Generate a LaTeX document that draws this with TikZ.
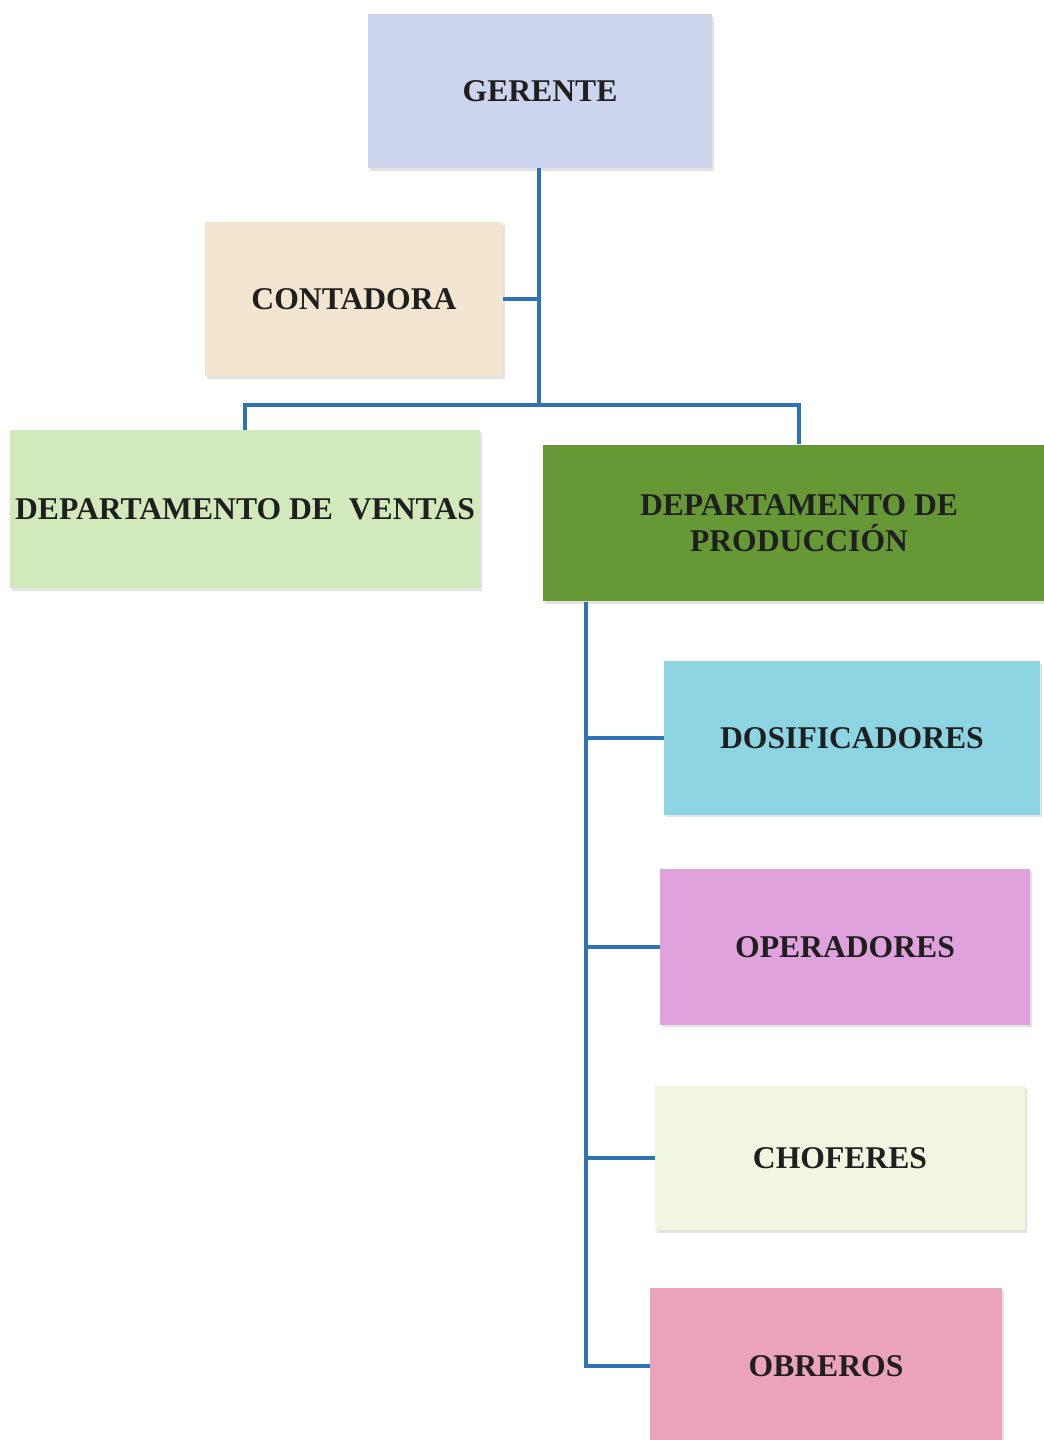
\documentclass[tikz,border=0pt]{standalone}
\usepackage{tikz}
\usepackage{xcolor}
\usepackage{fontspec}
\setmainfont{Liberation Serif}
\usetikzlibrary{shadows}
\definecolor{linea}{HTML}{2E74B5}
\definecolor{cger}{HTML}{CDD5EE}
\definecolor{ccon}{HTML}{F3E6D0}
\definecolor{cven}{HTML}{D2EABB}
\definecolor{cpro}{HTML}{679836}
\definecolor{cdos}{HTML}{8ED5E3}
\definecolor{cope}{HTML}{E0A2DC}
\definecolor{ccho}{HTML}{F1F6E0}
\definecolor{cobr}{HTML}{EBA2BB}
\tikzstyle{box}=[rectangle, align=center, text=black!88, inner sep=2pt,
  font=\bfseries\fontsize{22.5}{22.5}\selectfont,
  drop shadow={shadow xshift=1.5pt, shadow yshift=-2pt, fill=black!22}]
\tikzstyle{conn}=[line width=3.1pt, linea]

\begin{document}
\begin{tikzpicture}[x=0.025cm, y=-0.025cm]
      \useasboundingbox (0,0) rectangle (1044,1440);
      \node [box, fill=cger, minimum width=8.6cm, minimum height=3.85cm] (ger) at (540,91) {GERENTE};
      \node [box, fill=ccon, minimum width=7.45cm, minimum height=3.85cm] (con) at (354,299) {CONTADORA};
      \node [box, fill=cven, minimum width=11.75cm, minimum height=3.95cm] (ven) at (245,509) {DEPARTAMENTO DE \ VENTAS};
      \node [box, fill=cpro, minimum width=12.8cm, minimum height=3.92cm] (pro) at (799,523) {DEPARTAMENTO DE\\[3pt] PRODUCCIÓN};
      \node [box, fill=cdos, minimum width=9.38cm, minimum height=3.83cm] (dos) at (852,738) {DOSIFICADORES};
      \node [box, fill=cope, minimum width=9.25cm, minimum height=3.88cm] (ope) at (845,947) {OPERADORES};
      \node [box, fill=ccho, minimum width=9.25cm, minimum height=3.6cm] (cho) at (840,1158) {CHOFERES};
      \node [box, fill=cobr, minimum width=8.8cm, minimum height=3.9cm] (obr) at (826,1366) {OBREROS};

      \coordinate (bus) at (539,405);
      \coordinate (sp) at (586,602);
      \draw [conn] (ger.south -| bus) -- (bus);
      \draw [conn] (con.east) -- (con.east -| bus);
      \draw [conn] (ven.north) |- (bus) -| (pro.north);
      \draw [conn] (sp) |- (obr.west);
      \draw [conn] (sp |- dos.west) -- (dos.west);
      \draw [conn] (sp |- ope.west) -- (ope.west);
      \draw [conn] (sp |- cho.west) -- (cho.west);
    \end{tikzpicture}
\end{document}
